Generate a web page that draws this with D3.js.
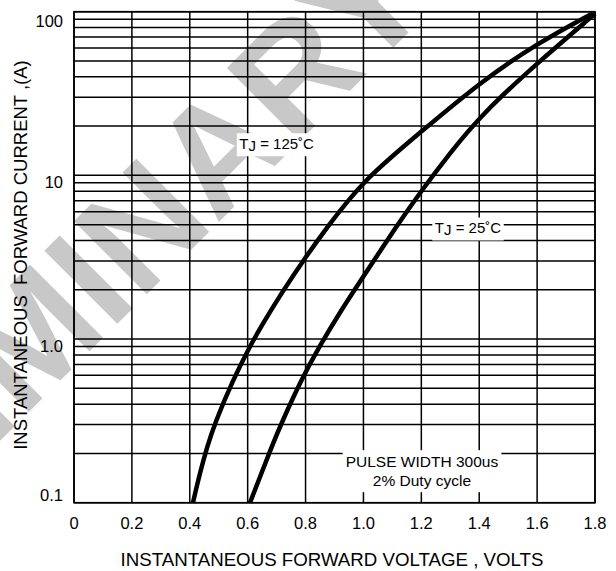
<!DOCTYPE html>
<html>
<head>
<meta charset="utf-8">
<script src="https://cdn.jsdelivr.net/npm/d3@7"></script>
<style>
  body { margin: 0; background: #fff; }
  svg { display: block; }
  text { font-family: "Liberation Sans", Arial, sans-serif; fill: #000; }
</style>
</head>
<body>
<svg id="chart" width="616" height="571"></svg>
<script>
// x axis (volts)
var voltageTicks = [0, 0.2, 0.4, 0.6, 0.8, 1.0, 1.2, 1.4, 1.6, 1.8],
    voltageLabels = ["0", "0.2", "0.4", "0.6", "0.8", "1.0", "1.2", "1.4", "1.6", "1.8"];

// y axis (amps, log)
var currentTicks = [0.1, 1, 10, 100],
    currentLabels = ["0.1", "1.0", "10", "100"];

// TJ = 125 C curve
var vf125 = [0.411, 0.435, 0.460, 0.487, 0.549, 0.607, 0.646, 0.717, 0.793, 0.876, 1.0, 1.2, 1.4, 1.6, 1.793],
    if125 = [0.1, 0.152, 0.220, 0.307, 0.562, 0.897, 1.19, 1.91, 3.04, 4.86, 9.37, 18.5, 36.7, 64.1, 98];

// TJ = 25 C curve
var vf25 = [0.608, 0.648, 0.683, 0.717, 0.785, 0.847, 0.923, 0.999, 1.117, 1.198, 1.299, 1.407, 1.592, 1.800],
    if25 = [0.1, 0.152, 0.220, 0.307, 0.562, 0.897, 1.50, 2.40, 4.97, 7.95, 13.7, 23.4, 47.2, 97];

var svg = d3.select("#chart"),
    margin = {top: 11.7, right: 21, bottom: 68.3, left: 74},
    width = +svg.attr("width") - margin.left - margin.right,
    height = +svg.attr("height") - margin.top - margin.bottom;

var x = d3.scaleLinear().domain([0, 1.8]).range([0, width]),
    y = d3.scaleLog().domain([0.1, 100]).range([height, 0]);

// watermark, centred on its "N"
var markSize = 150;
var mark = svg.append("g").attr("transform", "translate(140,225) rotate(-45)");
var markText = mark.append("text")
    .attr("font-size", markSize)
    .attr("font-weight", "bold")
    .style("fill", "#c8c8c8")
    .text("PRELIMINARY");
var node = markText.node(),
    shift = node.getSubStringLength(0, 7) + node.getSubStringLength(7, 1) / 2;
markText.attr("x", -shift).attr("y", 0.358 * markSize);

var g = svg.append("g").attr("transform", "translate(" + margin.left + "," + margin.top + ")");

// grid
g.append("g").selectAll("line")
    .data(y.ticks())
  .enter().append("line")
    .attr("x1", 0).attr("x2", width)
    .attr("y1", function(d) { return y(d); })
    .attr("y2", function(d) { return y(d); })
    .attr("stroke", "#000").attr("stroke-width", 1.5);

g.append("g").selectAll("line")
    .data(voltageTicks)
  .enter().append("line")
    .attr("x1", function(d) { return x(d); })
    .attr("x2", function(d) { return x(d); })
    .attr("y1", 0).attr("y2", height)
    .attr("stroke", "#000").attr("stroke-width", 1.5);

g.append("rect")
    .attr("width", width).attr("height", height)
    .attr("fill", "none").attr("stroke", "#000").attr("stroke-width", 1.6);

// tick labels
g.append("g").selectAll("text")
    .data(voltageTicks)
  .enter().append("text")
    .attr("x", function(d) { return x(d); })
    .attr("y", height + 26)
    .attr("text-anchor", "middle")
    .attr("font-size", 16.5)
    .text(function(d, i) { return voltageLabels[i]; });

g.append("g").selectAll("text")
    .data(currentTicks)
  .enter().append("text")
    .attr("x", -11)
    .attr("y", function(d, i) {
      var off = i === 0 ? -2 : (i === currentTicks.length - 1 ? 15 : 12.5);
      return y(d) + off;
    })
    .attr("text-anchor", "end")
    .attr("font-size", 16.5)
    .text(function(d, i) { return currentLabels[i]; });

// axis titles
svg.append("text")
    .attr("x", 332).attr("y", 566)
    .attr("text-anchor", "middle")
    .attr("font-size", 18.7)
    .text("INSTANTANEOUS FORWARD VOLTAGE , VOLTS");

svg.append("text")
    .attr("transform", "translate(27,255) rotate(-90)")
    .attr("text-anchor", "middle")
    .attr("font-size", 18.5)
    .style("white-space", "pre")
    .text("INSTANTANEOUS  FORWARD CURRENT ,(A)");

// curves
var line = d3.line()
    .x(function(d) { return x(d[0]); })
    .y(function(d) { return y(d[1]); })
    .curve(d3.curveBasis);

[[vf125, if125], [vf25, if25]].forEach(function(s) {
  g.append("path")
      .datum(d3.zip(s[0], s[1]))
      .attr("d", line)
      .attr("fill", "none")
      .attr("stroke", "#000")
      .attr("stroke-width", 4.5);
});

// labels with white boxes
function label(v, a, build, pad) {
  var lg = g.append("g").attr("transform", "translate(" + x(v) + "," + y(a) + ")");
  var box = lg.append("rect").attr("fill", "#fff");
  var t = lg.append("text").attr("text-anchor", "middle").attr("font-size", 15);
  build(t);
  var b = t.node().getBBox();
  box.attr("x", b.x - pad[0]).attr("y", b.y - pad[1])
     .attr("width", b.width + 2 * pad[0]).attr("height", b.height + 2 * pad[1]);
}

function tj(temp) {
  return function(t) {
    t.attr("y", 5.5);
    t.append("tspan").text("T");
    t.append("tspan").attr("dy", 2).text("J");
    t.append("tspan").attr("dy", -2).text(" = " + temp + "\u02DAC");
  };
}

label(0.70, 15.6, tj(125), [2.5, 2]);
label(1.361, 4.77, tj(25), [2.5, 2]);
label(1.202, 0.158, function(t) {
  t.attr("font-size", 15.5);
  t.append("tspan").attr("x", 0).attr("y", -3).text("PULSE WIDTH 300us");
  t.append("tspan").attr("x", 0).attr("y", 16).text("2% Duty cycle");
}, [3, 3]);
</script>
</body>
</html>
